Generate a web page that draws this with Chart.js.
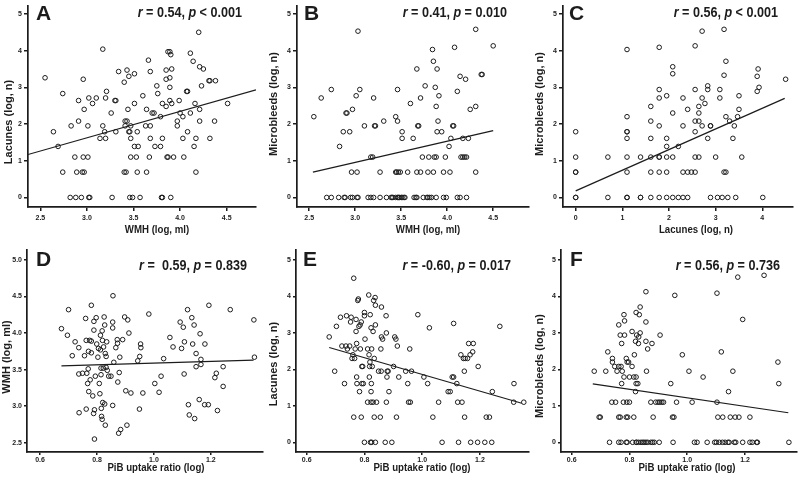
<!DOCTYPE html>
<html><head><meta charset="utf-8">
<script src="https://cdn.jsdelivr.net/npm/chart.js@4.4.1/dist/chart.umd.min.js"></script>
<style>
html,body{margin:0;padding:0;background:#fff;}
#wrap{position:relative;width:800px;height:481px;overflow:hidden;background:#fff;}
canvas{position:absolute;}
</style></head><body>
<div id="wrap">
<canvas id="cA" width="266" height="240" style="left:0px;top:0px;width:266px;height:240px"></canvas>
<canvas id="cB" width="266" height="240" style="left:266px;top:0px;width:266px;height:240px"></canvas>
<canvas id="cC" width="268" height="240" style="left:532px;top:0px;width:268px;height:240px"></canvas>
<canvas id="cD" width="266" height="241" style="left:0px;top:240px;width:266px;height:241px"></canvas>
<canvas id="cE" width="266" height="241" style="left:266px;top:240px;width:266px;height:241px"></canvas>
<canvas id="cF" width="268" height="241" style="left:532px;top:240px;width:268px;height:241px"></canvas>
</div>
<script>
// ---------- tick labels ----------
const ticksWMHx = [2.5, 3.0, 3.5, 4.0, 4.5];
const ticksCount = [0, 1, 2, 3, 4, 5];
const ticksLacx = [0, 1, 2, 3, 4];
const ticksPiB = [0.6, 0.8, 1.0, 1.2];
const ticksWMHy = [2.5, 3.0, 3.5, 4.0, 4.5, 5.0];

// ---------- Panel A: Lacunes vs WMH (rows by lacune level) ----------
const A_lacunes = [0,0.69,1.10,1.39,1.61,1.79,1.95,2.08,2.20,2.30,2.40,2.48,2.56,2.64,2.71,2.77,2.83,2.89,3.00,3.04,3.14,3.18,3.22,3.26,3.30,3.37,3.43,3.47,3.50,3.56,3.71,3.74,3.89,3.93,3.97,4.04,4.50];
const A_wmh = [
 [2.82,2.88,2.94,3.02,3.03,3.27,3.46,3.49,3.57,3.80,3.81,3.90],
 [2.74,2.89,2.95,2.97,3.40,3.42,3.54,3.64,4.17],
 [2.87,2.96,3.01,3.47,3.53,3.67,3.86,3.87,3.93,4.04],
 [2.69,3.51,3.55,3.73,3.79,4.15],
 [3.14,3.20,3.47,3.68,3.81,4.03,4.17,4.32],
 [2.64,3.19,3.31,3.45,3.46,3.54,4.08],
 [2.83,3.01,3.17,3.41,3.47,3.63,3.68,3.97],
 [2.91,3.41,3.43,3.97,4.21,4.37],
 [3.79,4.03],
 [3.26,3.70,3.72,4.00,4.11],
 [2.97,3.44,3.64,4.21],
 [3.85],
 [3.06,3.51,3.81,3.91,4.16,4.51],
 [2.91,3.30,3.31,3.89,3.99],
 [3.02,3.10,3.20],
 [3.60],
 [2.74,3.76],
 [3.21,4.07,4.08],
 [3.89],
 [3.75,4.23],
 [3.40],
 [4.31,4.32,4.38],
 [2.96,3.85],
 [2.55,3.89],
 [3.45],
 [3.51],
 [3.34,3.68],
 [3.43,3.85],
 [3.91,4.25],
 [4.21],
 [4.14],
 [3.66],
 [3.90],
 [4.11],
 [3.87,3.89],
 [3.17],
 [4.20]
];
const A_fitX = [2.367, 4.815];
const A_fitY = [1.17, 2.93];

// ---------- Panel B: Microbleeds vs WMH ----------
const B_microbleeds = [0,0.69,1.10,1.39,1.61,1.79,1.95,2.08,2.20,2.30,2.40,2.48,2.56,2.71,2.77,2.89,2.94,3.00,3.04,3.22,3.30,3.35,3.50,3.71,4.03,4.09,4.13,4.53,4.58];
const B_wmh = [
 [2.69,2.74,2.82,2.88,2.89,2.95,2.97,3.02,3.03,3.14,3.17,3.20,3.27,3.34,3.39,3.40,3.41,3.44,3.46,3.47,3.48,3.50,3.51,3.53,3.54,3.64,3.66,3.67,3.74,3.78,3.79,3.81,3.83,3.88,3.96,3.99,4.11,4.14,4.21],
 [2.96,3.02,3.27,3.44,3.45,3.47,3.49,3.57,3.67,3.71,3.79,3.85,3.96,4.03,4.31],
 [3.17,3.19,3.73,3.80,3.86,3.88,3.98,4.15,4.17,4.19,4.21],
 [2.83,4.02],
 [3.51,3.63,4.04,4.17,4.23],
 [2.87,2.94,3.51,3.89,3.94],
 [3.10,3.21,3.22,3.68,3.69,4.06,4.07],
 [3.31,3.46,3.90],
 [2.55,3.44],
 [2.90,2.91],
 [2.97,4.25],
 [3.88,4.31],
 [3.60],
 [2.63,3.20,3.71],
 [3.01,3.91],
 [4.11],
 [2.74,3.05,3.46],
 [3.87],
 [3.76],
 [4.20],
 [4.14],
 [4.37,4.38],
 [3.67,3.89],
 [3.85],
 [3.84],
 [4.08],
 [4.50],
 [3.03],
 [4.31]
];
const B_fitX = [2.54, 4.50];
const B_fitY = [0.69, 1.82];

// ---------- Panel C: Microbleeds vs Lacunes ----------
const C_microbleeds = [0,0.69,1.10,1.39,1.61,1.79,1.95,2.08,2.20,2.30,2.40,2.48,2.56,2.71,2.77,2.89,2.94,3.00,3.04,3.22,3.30,3.33,3.37,3.50,3.56,3.71,4.03,4.09,4.13,4.53,4.58];
const C_lacunes = [
 [0,0,0.69,1.10,1.10,1.39,1.39,1.61,1.79,1.95,2.08,2.20,2.30,2.40,2.89,3.04,3.14,3.26,3.43,4.01],
 [0,0,1.10,1.61,1.79,1.95,2.30,2.40,2.48,2.56,3.18,3.22],
 [0,0.69,1.10,1.39,1.61,1.79,1.79,1.95,2.08,2.56,2.64,3.00,3.56],
 [1.95,2.20],
 [1.10,1.61,1.95,2.83,3.37],
 [0,1.10,1.10,2.56],
 [1.79,2.30,2.71,2.89,2.89,3.40],
 [1.61,2.56,2.64,3.30],
 [1.10,3.22,3.47],
 [2.08,2.64],
 [2.40,3.50],
 [1.61,2.64],
 [2.77],
 [1.79,2.30,2.71,3.09],
 [1.95,3.50],
 [3.89],
 [1.79,2.56,2.83,3.09],
 [3.93],
 [2.83],
 [4.50],
 [3.89],
 [3.18],
 [2.08],
 [3.91],
 [2.08],
 [3.22],
 [1.10],
 [1.79],
 [2.56],
 [2.71],
 [3.18]
];
const C_fitX = [0.0, 4.48];
const C_fitY = [0.18, 2.70];

// ---------- Panel D: WMH vs PiB ----------
const D_pib = [0.675,0.696,0.700,0.713,0.723,0.736,0.737,0.736,0.749,0.756,0.760,0.762,0.764,0.767,0.769,0.770,0.771,0.762,0.774,0.780,0.776,0.780,0.780,0.785,0.788,0.789,0.789,0.791,0.791,0.794,0.797,0.799,0.803,0.805,0.808,0.810,0.812,0.812,0.814,0.814,0.815,0.816,0.818,0.818,0.819,0.820,0.822,0.823,0.825,0.827,0.827,0.829,0.829,0.832,0.832,0.834,0.836,0.841,0.849,0.855,0.855,0.856,0.855,0.859,0.866,0.872,0.871,0.873,0.876,0.878,0.880,0.883,0.890,0.897,0.901,0.905,0.908,0.912,0.919,0.943,0.949,0.950,0.953,0.954,0.961,0.982,1.003,1.018,1.025,1.034,1.056,1.067,1.092,1.097,1.103,1.107,1.106,1.118,1.121,1.124,1.133,1.136,1.141,1.143,1.148,1.148,1.159,1.162,1.165,1.165,1.178,1.179,1.191,1.193,1.214,1.219,1.223,1.243,1.243,1.268,1.351,1.353];
const D_wmh = [4.06,3.97,4.32,3.69,3.88,3.80,2.91,3.44,3.45,3.69,4.20,3.90,3.45,3.31,3.51,3.75,3.20,2.96,3.90,3.89,3.36,3.73,4.38,3.14,2.90,4.16,4.04,2.55,2.95,3.41,4.21,3.85,3.67,3.79,3.31,3.17,3.77,3.97,3.43,3.52,2.97,2.86,2.82,4.03,3.90,3.05,3.52,3.81,4.22,4.11,3.03,2.74,3.72,3.68,3.53,3.88,3.49,3.41,3.41,4.15,4.07,4.51,3.01,3.60,3.80,3.86,3.91,3.33,2.63,3.46,3.67,2.68,3.91,4.22,3.21,2.74,4.18,4.00,3.18,3.62,2.96,3.68,3.85,3.80,3.18,4.26,3.31,3.19,3.41,3.65,3.94,3.81,4.15,3.79,4.08,3.88,3.44,4.32,3.02,2.88,4.21,3.85,4.11,2.83,3.72,3.54,3.09,3.99,3.64,3.57,3.02,3.85,3.02,4.38,3.39,3.45,2.94,3.27,3.54,4.32,4.18,3.67];
const D_fitX = [0.675, 1.35];
const D_fitY = [3.55, 3.63];

// ---------- Panel E: Lacunes vs PiB ----------
const E_lacunes = [0,0.69,1.10,1.39,1.61,1.79,1.95,2.08,2.20,2.30,2.40,2.48,2.56,2.64,2.71,2.83,2.89,3.00,3.04,3.14,3.18,3.22,3.26,3.30,3.37,3.43,3.47,3.50,3.56,3.71,3.76,3.89,3.93,3.97,4.04,4.50];
const E_pib = [
 [0.800,0.821,0.825,0.838,0.872,0.895,1.069,1.126,1.168,1.192,1.217,1.241],
 [0.763,0.789,0.834,0.855,0.911,1.037,1.147,1.222,1.233],
 [0.811,0.823,0.830,0.842,0.876,0.953,0.959,1.057,1.123,1.138,1.317,1.352],
 [0.783,0.823,0.885,1.090,1.097,1.243],
 [0.731,0.774,0.791,0.796,0.824,0.950,1.019,1.120,1.318],
 [0.773,0.817,0.878,0.919,1.006,1.104,1.109],
 [0.697,0.849,0.858,0.879,0.882,0.943,0.963,1.146],
 [0.791,0.794,0.818,0.827,0.901,1.194],
 [0.819],
 [0.757,0.766,0.834,1.143,1.149,1.157],
 [0.760,0.816,1.134,1.166],
 [1.175],
 [0.741,0.768,0.786,0.811,0.825,0.857,0.957],
 [0.722,0.736,0.749,0.914],
 [0.773,1.161,1.177],
 [0.802,0.863,0.909],
 [0.678,0.859,0.905],
 [0.876],
 [0.771,0.830],
 [0.823,1.025],
 [0.703,0.781,1.269],
 [0.785,0.838],
 [1.109],
 [0.752,0.789],
 [0.771],
 [0.717,0.754],
 [0.738,0.800,0.875],
 [0.820,0.985],
 [0.800],
 [0.859],
 [0.838],
 [0.777,0.832],
 [0.779],
 [0.837],
 [0.815],
 [0.763]
];
const E_fitX = [0.678, 1.345];
const E_fitY = [2.60, 1.07];

// ---------- Panel F: Microbleeds vs PiB ----------
const F_microbleeds = [0,0.69,1.10,1.39,1.61,1.79,1.95,2.08,2.20,2.30,2.40,2.48,2.56,2.71,2.77,2.89,2.94,3.00,3.04,3.22,3.30,3.33,3.37,3.50,3.56,3.71,4.03,4.09,4.13,4.53,4.58];
const F_pib = [
 [0.731,0.763,0.771,0.789,0.792,0.811,0.823,0.825,0.832,0.840,0.846,0.851,0.857,0.863,0.874,0.880,0.886,0.903,0.951,1.025,1.034,1.069,1.095,1.101,1.111,1.122,1.131,1.141,1.145,1.163,1.168,1.192,1.217,1.225,1.240,1.243,1.352],
 [0.695,0.699,0.763,0.768,0.789,0.794,0.815,0.882,0.949,0.954,1.106,1.123,1.149,1.166,1.179,1.217],
 [0.739,0.752,0.779,0.791,0.800,0.874,0.891,0.899,0.905,0.912,0.918,0.963,1.017,1.103],
 [0.821,1.143],
 [0.773,0.823,0.829,0.943,1.317],
 [0.781,0.800,0.815,0.823,1.055],
 [0.678,0.718,0.757,0.775,0.859,1.006,1.158],
 [0.749,0.763,0.771,0.809],
 [0.741,0.792,0.797,1.314],
 [0.741,0.789],
 [0.817,0.983],
 [0.725,1.118],
 [0.863],
 [0.773,0.831,0.878],
 [0.821,0.857],
 [0.832],
 [0.768,0.783,0.825,0.906],
 [0.837],
 [0.809],
 [0.763],
 [0.857],
 [0.783],
 [1.192],
 [0.781,0.834],
 [0.823],
 [0.837],
 [0.957],
 [1.103],
 [0.857],
 [1.175],
 [1.266]
];
const F_fitX = [0.673, 1.35];
const F_fitY = [1.60, 0.81];

// ---------- helpers ----------
const INK = '#1c1c1c';
const FAM = '"Liberation Sans", Arial, Helvetica, sans-serif';
const TICKFONT = {family: FAM, size: 7, weight: 'bold'};

function fromRows(levels, rows) {
  const out = [];
  levels.forEach((lv, i) => rows[i].forEach(v => out.push({x: v, y: lv})));
  return out;
}
function fromPairs(xs, ys) { return xs.map((v, i) => ({x: v, y: ys[i]})); }

function drawStats(ctx, segs, right, base) {
  const sx = 0.9;
  let w = 0;
  segs.forEach(s => { ctx.font = (s[1] ? 'italic ' : '') + 'bold 14px ' + FAM; w += ctx.measureText(s[0]).width; });
  ctx.save();
  ctx.translate(right - w * sx, base);
  ctx.scale(sx, 1);
  ctx.fillStyle = INK; ctx.textBaseline = 'alphabetic'; ctx.textAlign = 'left';
  let x = 0;
  segs.forEach(s => { ctx.font = (s[1] ? 'italic ' : '') + 'bold 14px ' + FAM; ctx.fillText(s[0], x, 0); x += ctx.measureText(s[0]).width; });
  ctx.restore();
}

function makePanel(id, p) {
  const txt = {
    id: 'txt' + id,
    afterDraw(chart) {
      const c = chart.ctx;
      c.save();
      c.fillStyle = INK;
      // panel letter
      c.font = 'bold 21px ' + FAM; c.textAlign = 'left'; c.textBaseline = 'alphabetic';
      c.fillText(p.letter, p.lx, p.ly);
      // stats
      drawStats(c, p.stats, p.sr, p.sb);
      // x title
      c.save();
      c.translate(p.xtx, p.xty); c.scale(0.92, 1);
      c.font = 'bold 10.5px ' + FAM; c.textAlign = 'center'; c.textBaseline = 'middle';
      c.fillText(p.xTitle, 0, 0);
      c.restore();
      // y title
      c.save();
      c.translate(p.ytx, p.yty); c.rotate(-Math.PI / 2);
      c.font = 'bold 11px ' + FAM; c.textAlign = 'center'; c.textBaseline = 'middle';
      c.fillText(p.yTitle, 0, 0);
      c.restore();
      c.restore();
    }
  };
  const mkGrid = () => ({display: true, drawOnChartArea: false, drawTicks: true, tickLength: p.tl, lineWidth: 1.5, color: INK});
  const border = {display: true, color: INK, width: 1.7};
  new Chart(document.getElementById(id), {
    type: 'scatter',
    data: {datasets: [
      {type: 'scatter', data: p.points, pointRadius: 2.3, pointHoverRadius: 2.3, borderWidth: 1, borderColor: INK, backgroundColor: 'rgba(255,255,255,0)', order: 2},
      {type: 'line', data: p.fit, borderColor: INK, borderWidth: 1.2, pointRadius: 0, fill: false, tension: 0, order: 1}
    ]},
    options: {
      responsive: false, animation: false, events: [],
      layout: {padding: {top: p.padTop, right: p.padRight, left: 0, bottom: 0}},
      plugins: {legend: {display: false}, tooltip: {enabled: false}},
      scales: {
        x: {
          type: 'linear', min: p.xmin, max: p.xmax, grid: mkGrid(), border: border,
          afterBuildTicks: s => { s.ticks = p.xticks.map(v => ({value: v})); },
          afterFit: s => { s.height = p.xh; },
          ticks: {callback: v => Number(v).toFixed(p.xdec), font: TICKFONT, color: INK, padding: p.xpad, maxRotation: 0, autoSkip: false}
        },
        y: {
          type: 'linear', min: p.ymin, max: p.ymax, grid: mkGrid(), border: border,
          afterBuildTicks: s => { s.ticks = p.yticks.map(v => ({value: v})); },
          afterFit: s => { s.width = p.yw; },
          ticks: {callback: v => Number(v).toFixed(p.ydec), font: TICKFONT, color: INK, padding: 2, autoSkip: false}
        }
      }
    },
    plugins: [txt]
  });
}

// ---------- panels ----------
makePanel('cA', {
  points: fromRows(A_lacunes, A_wmh), fit: fromPairs(A_fitX, A_fitY),
  xmin: 2.367, xmax: 4.815, ymin: -0.26, ymax: 5.21, xticks: ticksWMHx, yticks: ticksCount, xdec: 1, ydec: 0,
  yw: 28, xh: 33, padTop: 5, padRight: 10, tl: 4, xpad: 3,
  letter: 'A', lx: 36, ly: 20, stats: [['r',1],[' = 0.54, ',0],['p',1],[' < 0.001',0]], sr: 242, sb: 17,
  xTitle: 'WMH (log, ml)', xtx: 157, xty: 230, yTitle: 'Lacunes (log, n)', ytx: 9, yty: 122
});
makePanel('cB', {
  points: fromRows(B_microbleeds, B_wmh), fit: fromPairs(B_fitX, B_fitY),
  xmin: 2.367, xmax: 4.886, ymin: -0.26, ymax: 5.21, xticks: ticksWMHx, yticks: ticksCount, xdec: 1, ydec: 0,
  yw: 31, xh: 33, padTop: 5, padRight: 2, tl: 4, xpad: 3,
  letter: 'B', lx: 38, ly: 20, stats: [['r',1],[' = 0.41, ',0],['p',1],[' = 0.010',0]], sr: 241, sb: 17,
  xTitle: 'WMH (log, ml)', xtx: 162, xty: 230, yTitle: 'Microbleeds (log, n)', ytx: 8, yty: 104
});
makePanel('cC', {
  points: fromRows(C_microbleeds, C_lacunes), fit: fromPairs(C_fitX, C_fitY),
  xmin: -0.272, xmax: 4.658, ymin: -0.26, ymax: 5.21, xticks: ticksLacx, yticks: ticksCount, xdec: 0, ydec: 0,
  yw: 31, xh: 33, padTop: 5, padRight: 7, tl: 4, xpad: 3,
  letter: 'C', lx: 37, ly: 20, stats: [['r',1],[' = 0.56, ',0],['p',1],[' < 0.001',0]], sr: 246, sb: 17,
  xTitle: 'Lacunes (log, n)', xtx: 164, xty: 230, yTitle: 'Microbleeds (log, n)', ytx: 8, yty: 104
});
makePanel('cD', {
  points: fromPairs(D_pib, D_wmh), fit: fromPairs(D_fitX, D_fitY),
  xmin: 0.554, xmax: 1.382, ymin: 2.373, ymax: 5.136, xticks: ticksPiB, yticks: ticksWMHy, xdec: 1, ydec: 1,
  yw: 27, xh: 29, padTop: 10, padRight: 1, tl: 3, xpad: 1,
  letter: 'D', lx: 36, ly: 26, stats: [['r',1],[' =  0.59, ',0],['p',1],[' = 0.839',0]], sr: 247, sb: 30,
  xTitle: 'PiB uptake ratio (log)', xtx: 156, xty: 228, yTitle: 'WMH (log, ml)', ytx: 7, yty: 117
});
makePanel('cE', {
  points: fromRows(E_lacunes, E_pib), fit: fromPairs(E_fitX, E_fitY),
  xmin: 0.563, xmax: 1.369, ymin: -0.266, ymax: 5.274, xticks: ticksPiB, yticks: ticksCount, xdec: 1, ydec: 0,
  yw: 30, xh: 29, padTop: 10, padRight: 1, tl: 3, xpad: 1,
  letter: 'E', lx: 37, ly: 26, stats: [['r',1],[' = -0.60, ',0],['p',1],[' = 0.017',0]], sr: 245, sb: 30,
  xTitle: 'PiB uptake ratio (log)', xtx: 156, xty: 228, yTitle: 'Lacunes (log, n)', ytx: 8, yty: 124
});
makePanel('cF', {
  points: fromRows(F_microbleeds, F_pib), fit: fromPairs(F_fitX, F_fitY),
  xmin: 0.563, xmax: 1.379, ymin: -0.266, ymax: 5.274, xticks: ticksPiB, yticks: ticksCount, xdec: 1, ydec: 0,
  yw: 29, xh: 29, padTop: 10, padRight: 1, tl: 3, xpad: 1,
  letter: 'F', lx: 38, ly: 26, stats: [['r',1],[' = 0.56, ',0],['p',1],[' = 0.736',0]], sr: 248, sb: 30,
  xTitle: 'PiB uptake ratio (log)', xtx: 155, xty: 228, yTitle: 'Microbleeds (log, n)', ytx: 8, yty: 126
});
</script>
</body></html>
